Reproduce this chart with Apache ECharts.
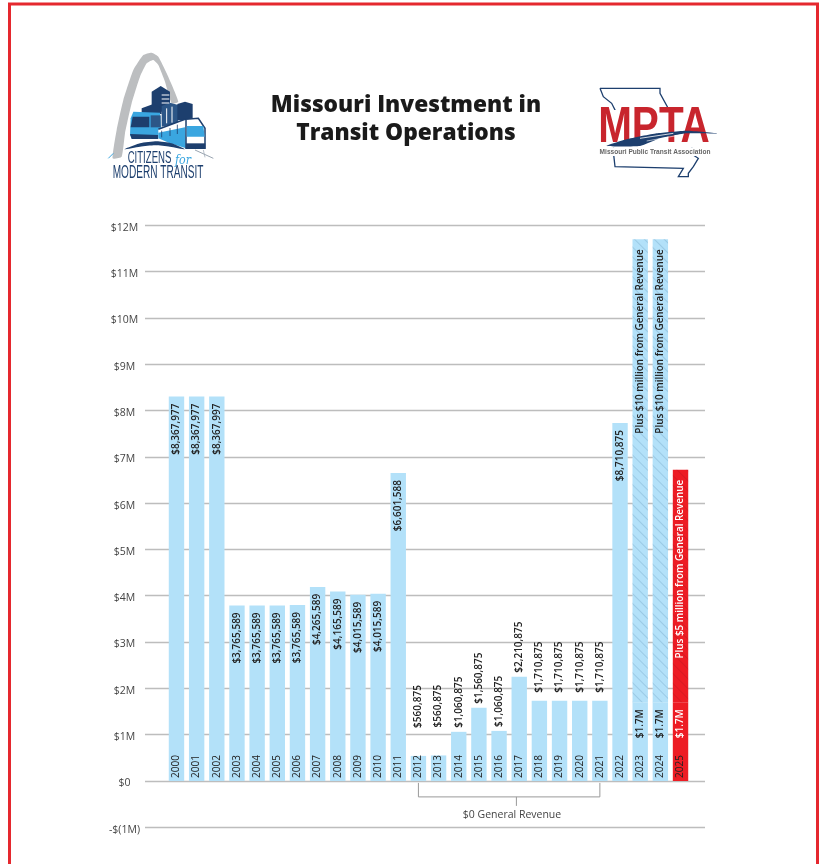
<!DOCTYPE html>
<html><head><meta charset="utf-8">
<style>html,body{margin:0;padding:0;background:#fff}#c{width:822px;height:864px}</style>
<script src="https://cdn.jsdelivr.net/npm/echarts@6/dist/echarts.min.js"></script>
</head><body><div id="c"></div>
<script>
const years=['2000','2001','2002','2003','2004','2005','2006','2007','2008','2009','2010','2011','2012','2013','2014','2015','2016','2017','2018','2019','2020','2021','2022','2023','2024','2025'];
// bar heights in $M, as drawn in the picture
const baseValues=[8.30,8.30,8.30,3.79,3.79,3.79,3.80,4.19,4.09,4.02,4.04,6.65,0.54,0.55,1.06,1.58,1.08,2.25,1.73,1.73,1.73,1.73,7.73,1.7,1.7,1.7];
const generalRevenue=[null,null,null,null,null,null,null,null,null,null,null,null,null,null,null,null,null,null,null,null,null,null,null,10.0,10.0,5.02];
const valueLabels=['$8,367,977','$8,367,977','$8,367,997','$3,765,589','$3,765,589','$3,765,589','$3,765,589','$4,265,589','$4,165,589','$4,015,589','$4,015,589','$6,601,588','$560,875','$560,875','$1,060,875','$1,560,875','$1,060,875','$2,210,875','$1,710,875','$1,710,875','$1,710,875','$1,710,875','$8,710,875','$1.7M','$1.7M','$1.7M'];
const revenueLabels={2023:'Plus $10 million from General Revenue',2024:'Plus $10 million from General Revenue',2025:'Plus $5 million from General Revenue'};
const tickValues=[-1,0,1,2,3,4,5,6,7,8,9,10,11,12];
const tickLabels=['-$(1M)','$0','$1M','$2M','$3M','$4M','$5M','$6M','$7M','$8M','$9M','$10M','$11M','$12M'];
const bracketNote='$0 General Revenue';
const bracketFrom='2012', bracketTo='2021';
const titleText='Missouri Investment in\nTransit Operations';

const BLUE='#b3e1f9', RED='#ed1c24', INK='#222', FONT='"Open Sans"', NAVY='#1d3f6e', SKY='#3aa6e0';
const small=v=>v<3;
const gapAbove=y=>(y==='2012'||y==='2013')?28:(+y>=2014&&+y<=2017)?4:8;

const chart=echarts.init(document.getElementById('c'),null,{renderer:'canvas'});

function z(pts){return pts.map(p=>[p[0]/3+90,p[1]/3+40]);}
function m(pts){return pts.map(p=>[p[0]/3+560,p[1]/3+70]);}
function poly(points,fill,extra){return Object.assign({type:'polygon',shape:{points},style:{fill}},extra||{});}
function line(points,stroke,w){return {type:'polyline',shape:{points},style:{stroke,lineWidth:w,fill:null}};}
function txt(text,x,y,font,fill,sx){return {type:'text',x,y,scaleX:sx||1,style:{text,x:0,y:0,font,fill,textAlign:'center',textVerticalAlign:'middle'}};}

const LS='"Liberation Sans"';
const logoA=[
 {type:'polygon',shape:{points:z([[68,355],[80,270],[100,180],[130,90],[160,45],[185,38],[205,50],[230,100],[265,185],[245,190],[225,125],[205,75],[190,60],[170,70],[150,110],[125,190],[105,280],[95,350]]),smooth:0.15},style:{fill:'#bcbec0'}},
 // buildings
 poly(z([[185,155],[212,138],[240,155],[240,215],[185,215]]),NAVY),
 poly(z([[155,205],[190,192],[215,205],[215,222],[155,222]]),NAVY),
 poly(z([[215,198],[240,188],[265,195],[265,250],[215,260]]),'#2c5687'),
 poly(z([[262,192],[285,185],[308,192],[308,240],[262,240]]),NAVY),
 line(z([[215,165],[238,165]]),'#fff',1), line(z([[215,177],[238,177]]),'#fff',1), line(z([[215,189],[238,189]]),'#fff',1),
 line(z([[230,205],[230,250]]),'#fff',1), line(z([[246,200],[246,248]]),'#fff',1),
 // left bus
 poly(z([[130,215],[210,218],[215,290],[125,295],[120,285],[122,235]]),SKY),
 poly(z([[128,230],[178,230],[178,262],[122,262]]),NAVY),
 poly(z([[182,226],[212,226],[212,262],[182,262]]),'#2c5687'),
 poly(z([[120,282],[205,285],[205,297],[125,297]]),NAVY),
 // centre tram
 poly(z([[205,268],[285,238],[288,325],[240,310],[205,295]]),'#fff'),
 poly(z([[205,278],[285,262],[288,325],[240,310],[205,295]]),SKY),
 line(z([[205,268],[285,238]]),NAVY,1.6),
 line(z([[215,272],[215,292]]),NAVY,0.8), line(z([[240,264],[240,288]]),NAVY,0.8), line(z([[262,254],[262,282]]),NAVY,0.8),
 // right train
 poly(z([[288,238],[325,235],[345,265],[345,325],[288,325]]),'#fff'),
 line(z([[288,238],[325,235],[345,265],[345,325],[288,325],[288,238]]),NAVY,1.5),
 poly(z([[290,258],[340,258],[344,290],[290,290]]),SKY),
 poly(z([[288,310],[346,310],[346,326],[288,326]]),NAVY),
 // swoosh and rails
 {type:'polygon',shape:{points:z([[103,328],[150,310],[200,304],[245,310],[285,328],[240,320],[195,316],[150,320]]),smooth:0.2},style:{fill:NAVY}},
 line(z([[55,355],[70,340]]),SKY,1),
 line(z([[315,330],[370,355]]),'#9aa5b1',1),
 line(z([[340,330],[345,352]]),'#9aa5b1',0.7),
 txt('CITIZENS',149.5,158.5,'16px '+LS,NAVY,0.6),
 txt('for',183,161,'italic 13px "DejaVu Serif"',SKY,0.85),
 txt('MODERN TRANSIT',158,173.5,'18px '+LS,NAVY,0.56)
];
const logoB=[
 line(m([[120,55],[300,55],[300,70],[322,110],[325,122],[370,122],[380,150],[400,255],[415,265],[400,290],[385,310],[385,320],[355,320],[370,295],[165,290],[160,245],[165,120],[155,100],[130,80],[120,55]]),NAVY,1.3),
 poly(m([[110,120],[448,120],[448,232],[110,232]]),'#fff'),
 txt('MPTA',654,128.5,'bold 50px '+LS,'#c8252d',0.81),
 {type:'polygon',shape:{points:m([[140,228],[200,208],[290,190],[380,182],[475,190],[380,190],[300,205],[240,228]]),smooth:0.15},style:{fill:NAVY}},
 line(m([[240,205],[340,190]]),'#fff',0.8),
 line(m([[260,213],[350,197]]),'#fff',0.6),
 poly(m([[110,232],[456,232],[456,258],[110,258]]),'#fff'),
 txt('Missouri Public Transit Association',655,151.5,'bold 8px '+LS,'#666',0.82)
];
const frame={type:'rect',shape:{x:9.5,y:4,width:808,height:880},style:{fill:null,stroke:'#e5282e',lineWidth:3}};

const option={
 animation:false,
 backgroundColor:'#fff',
 title:{text:titleText,left:401,top:86.5,textAlign:'center',textStyle:{fontFamily:FONT,fontWeight:800,fontSize:22.7,lineHeight:28,color:'#1a1a1a'}},
 grid:[
  {left:145,top:225.3,width:560,height:601.9,outerBoundsMode:'none'},
  {left:166.4,top:225.3,width:524.2,height:555.6,outerBoundsMode:'none'}
 ],
 xAxis:[
  {gridIndex:0,type:'value',min:0,max:1,show:false},
  {gridIndex:1,type:'category',data:years,z:10,axisLine:{show:false},axisTick:{show:false},
   axisLabel:{inside:true,rotate:90,margin:3,interval:0,fontFamily:FONT,fontSize:10,fontWeight:500,color:INK}}
 ],
 yAxis:[
  {gridIndex:0,type:'value',min:-1,max:12,interval:1,axisLine:{show:false},axisTick:{show:false},
   splitLine:{lineStyle:{color:'#bdbdbd',width:1.3}},
   axisLabel:{margin:20.5,align:'center',
     formatter:v=>'{t|'+tickLabels[tickValues.indexOf(v)]+'}',
     rich:{t:{fontFamily:FONT,fontSize:10.5,color:'#444',padding:[5,0,0,0]}}}},
  {gridIndex:1,type:'value',min:0,max:12,show:false}
 ],
 series:[
  {name:'State funding',type:'bar',xAxisIndex:1,yAxisIndex:1,stack:'a',barWidth:15.4,z:3,
   data:baseValues.map((v,i)=>({
     value:v,
     itemStyle:{color:years[i]==='2025'?RED:BLUE},
     label:small(v)&&!revenueLabels[years[i]]
       ?{show:true,formatter:valueLabels[i],position:'top',rotate:90,align:'left',verticalAlign:'middle',distance:gapAbove(years[i]),fontFamily:FONT,fontSize:10,fontWeight:600,color:INK}
       :{show:true,formatter:valueLabels[i],position:'insideTop',rotate:90,align:'right',verticalAlign:'middle',distance:7,fontFamily:FONT,fontSize:10,fontWeight:600,color:years[i]==='2025'?'#fff':INK}
   }))},
  {name:'General Revenue',type:'bar',xAxisIndex:1,yAxisIndex:1,stack:'a',barWidth:15.4,z:3,
   data:generalRevenue.map((v,i)=>v==null?null:({
     value:v,
     itemStyle:{color:years[i]==='2025'?RED:BLUE,
       decal:{symbol:'rect',color:years[i]==='2025'?'rgba(150,20,30,0.25)':'rgba(90,140,175,0.28)',dashArrayX:[1,0],dashArrayY:[1,6],rotation:Math.PI/4}},
     label:{show:true,formatter:revenueLabels[years[i]],position:'insideTop',rotate:90,align:'right',verticalAlign:'middle',distance:10,fontFamily:FONT,fontSize:9.9,fontWeight:600,color:years[i]==='2025'?'#fff':INK}
   }))}
 ],
 graphic:[]
};
chart.setOption(option);

// bracket placed through the chart's own scales
const xA=chart.convertToPixel({xAxisIndex:1},bracketFrom), xB=chart.convertToPixel({xAxisIndex:1},bracketTo);
const y0=chart.convertToPixel({yAxisIndex:1},0);
const xS=xA+0.54*(xB-xA);
const bracket=[
 line([[xA,y0+2],[xA,y0+16],[xB,y0+16],[xB,y0+2]],'#999',1),
 line([[xS,y0+16],[xS,y0+25]],'#999',1),
 txt(bracketNote,512,815,'10.5px '+FONT,'#444')
];
chart.setOption({graphic:[{type:'group',silent:true,children:[frame].concat(logoA,logoB,bracket)}]});
</script></body></html>
